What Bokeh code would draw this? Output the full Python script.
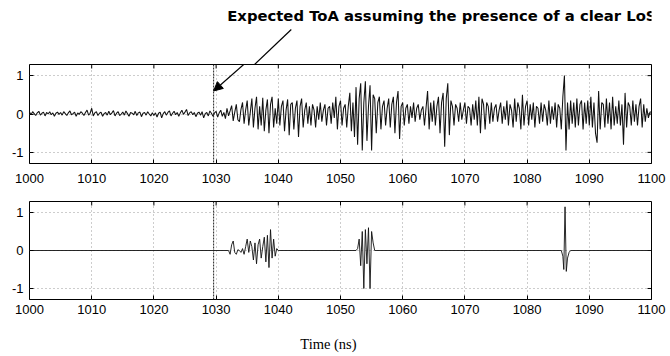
from bokeh.plotting import figure
from bokeh.layouts import column
from bokeh.models import Range1d, FixedTicker, Span, Arrow, NormalHead
from bokeh.core.properties import value
from bokeh.embed import file_html
from bokeh.resources import INLINE

# ---------------- data ----------------
t0 = 1000.0
dt = 0.25
received = [
    # 1000-1010
    0.05,-0.02,0.06,0.01,-0.04,0.03,0.07,-0.03,0.02,0.05,-0.05,0.04,0.00,0.06,-0.02,0.03,-0.06,0.02,0.05,-0.01,
    0.04,-0.03,0.06,0.01,-0.04,0.03,0.08,-0.02,0.01,0.05,-0.06,0.03,-0.01,0.06,0.02,-0.04,0.04,0.10,-0.03,0.02,
    # 1010-1020
    0.15,-0.05,0.03,0.06,-0.04,0.02,0.05,-0.06,0.01,0.04,-0.03,0.07,-0.02,0.03,0.09,-0.05,0.02,0.06,-0.04,0.00,
    0.05,-0.03,0.08,0.01,-0.06,0.04,0.02,-0.02,0.07,-0.04,0.03,0.05,-0.07,0.02,0.04,-0.03,0.06,0.00,-0.05,0.03,
    # 1020-1030
    -0.04,0.03,-0.08,0.02,0.05,-0.10,0.01,0.06,-0.03,0.04,0.08,-0.05,0.02,0.07,-0.02,0.04,-0.06,0.03,0.10,-0.01,
    0.05,0.12,-0.04,0.03,0.06,-0.02,0.04,-0.07,0.02,0.05,-0.03,0.06,-0.10,0.01,0.04,-0.05,0.08,0.02,-0.06,0.03,
    # 1030-1040
    0.07,-0.08,0.03,0.10,-0.06,0.04,-0.12,0.15,-0.05,0.08,0.22,-0.18,0.05,0.25,-0.15,-0.20,0.12,0.30,-0.25,0.10,
    0.35,-0.30,0.05,0.40,-0.35,0.15,0.45,-0.40,0.20,-0.30,0.42,-0.45,0.10,0.38,-0.50,0.25,0.45,-0.35,0.15,-0.25,
    # 1040-1050
    0.40,-0.30,0.20,0.35,-0.45,0.10,0.38,-0.55,0.25,0.30,-0.40,0.15,0.35,-0.60,0.20,0.40,-0.35,0.10,0.30,-0.25,
    0.20,-0.30,0.25,0.10,-0.35,0.20,-0.15,0.30,-0.20,0.10,0.25,-0.30,0.15,0.20,-0.25,0.30,-0.10,0.45,-0.40,0.20,
    # 1050-1060
    0.35,-0.30,0.15,0.25,-0.35,0.20,0.55,-0.45,0.30,-0.60,0.70,-0.80,0.40,0.80,-0.95,0.30,0.85,-0.70,0.20,0.75,
    -0.95,0.50,0.40,-0.50,0.30,0.45,-0.40,0.20,0.35,-0.30,0.15,0.40,-0.35,0.25,0.45,-0.50,0.30,0.60,-0.65,0.20,
    # 1060-1070
    0.30,-0.30,0.15,0.25,-0.25,0.20,-0.10,0.30,-0.20,0.15,0.25,-0.15,0.10,0.20,-0.30,0.15,0.60,-0.40,0.30,-0.20,
    0.35,-0.30,0.20,0.45,-0.50,0.30,0.55,-0.85,0.40,0.80,-0.55,0.35,0.20,-0.30,0.25,0.15,-0.20,0.30,-0.15,0.10,
    # 1070-1080
    0.30,-0.25,0.20,0.15,-0.30,0.25,-0.15,0.35,-0.30,0.45,-0.50,0.40,0.25,-0.40,0.30,0.20,-0.25,0.30,-0.20,0.15,
    0.25,-0.20,0.10,0.30,-0.25,0.20,-0.15,0.35,-0.30,0.25,0.10,-0.35,0.40,-0.20,0.30,0.15,-0.40,0.50,-0.30,0.20,
    # 1080-1090
    0.35,-0.30,0.25,-0.15,0.30,-0.35,0.20,0.15,-0.25,0.30,-0.20,0.25,0.10,-0.30,0.35,-0.25,0.20,-0.15,0.30,-0.35,
    0.25,0.15,-0.40,0.45,1.00,-0.95,0.30,-0.40,0.35,-0.25,0.30,-0.35,0.40,-0.30,0.25,0.35,-0.40,0.30,-0.25,0.35,
    # 1090-1100
    -0.30,0.45,-0.35,0.30,-0.50,-0.75,0.60,-0.40,0.30,0.25,-0.35,0.40,-0.25,0.30,-0.40,0.45,-0.30,0.20,-0.25,0.35,
    -0.30,0.25,-0.80,0.55,-0.35,0.30,0.20,-0.30,0.35,-0.20,0.25,-0.30,0.20,0.40,-0.35,0.25,-0.20,0.15,-0.10,0.05,
    0.05,
]
received_t = [t0 + dt * i for i in range(len(received))]

clean_t = [1000.0, 1032.0, 1032.25, 1032.5, 1032.75, 1033.0, 1033.25, 1033.5, 1033.75, 1034.0, 1034.25,
           1034.5, 1034.75, 1035.0, 1035.25, 1035.5, 1035.75, 1036.0, 1036.25, 1036.5, 1036.75, 1037.0,
           1037.25, 1037.5, 1037.75, 1038.0, 1038.25, 1038.5, 1038.75, 1039.0, 1039.25, 1039.5, 1039.75,
           1040.0,
           1052.5, 1052.75, 1053.0, 1053.25, 1053.5, 1053.75, 1054.0, 1054.25, 1054.5, 1054.75, 1055.0,
           1055.25, 1055.5,
           1085.5, 1085.75, 1085.9, 1086.1, 1086.3, 1086.5, 1086.75, 1087.0,
           1100.0]
clean_v = [0.0, 0.0, -0.10, 0.15, 0.25, -0.05, -0.10, 0.02, 0.0, -0.05, 0.05,
           -0.10, 0.10, 0.30, -0.05, 0.25, 0.10, -0.25, 0.20, -0.35, 0.15, 0.30,
           -0.20, 0.10, 0.35, -0.30, 0.40, -0.45, 0.55, -0.20, 0.30, -0.15, 0.05,
           0.0,
           0.0, 0.05, 0.30, -0.40, 0.50, -1.00, 0.55, -0.35, 0.60, -1.00, 0.50,
           0.20, 0.0,
           0.0, -0.15, -0.50, 1.15, -0.55, -0.20, -0.05, 0.0,
           0.0]

x_ticks = [1000, 1010, 1020, 1030, 1040, 1050, 1060, 1070, 1080, 1090, 1100]
y_ticks = [-1, 0, 1]
y_tick_labels = {-1: "-1", 0: "0", 1: "1"}
toa = 1029.6

title_text = "Expected ToA assuming the presence of a clear LoS"
xlabel_text = "Time (ns)"

W = 670
FONT = "Liberation Sans"
XR = (1000, 1100)
YR = (-1.29, 1.29)


def text_strip(height, top_px):
    # strip of the page in pixel coordinates (page x 0..670, page y top_px..top_px+height)
    p = figure(width=W, height=height, output_backend="svg", toolbar_location=None,
               x_range=Range1d(0, W), y_range=Range1d(top_px + height, top_px),
               x_axis_type=None, y_axis_type=None,
               min_border_left=0, min_border_right=0, min_border_top=0, min_border_bottom=0)
    p.outline_line_color = None
    p.grid.visible = False
    return p


def make_fig(height, top, bottom, frame_px_h, standoff):
    p = figure(width=W, height=height, output_backend="svg", toolbar_location=None,
               x_range=Range1d(*XR), y_range=Range1d(*YR),
               min_border_left=29, min_border_right=19, min_border_top=top,
               min_border_bottom=bottom)
    p.outline_line_color = "black"
    p.outline_line_width = 1
    for ax in (p.xaxis[0], p.yaxis[0]):
        ax.major_tick_in = 4
        ax.major_tick_out = 0
        ax.minor_tick_line_color = None
        ax.axis_line_color = None
        ax.major_label_text_font = FONT
        ax.major_label_text_font_size = "13px"
        ax.major_label_text_color = "black"
        ax.major_tick_line_color = "black"
    p.xaxis[0].ticker = FixedTicker(ticks=x_ticks)
    p.xaxis[0].major_label_standoff = standoff
    p.yaxis[0].ticker = FixedTicker(ticks=y_ticks)
    p.yaxis[0].major_label_overrides = y_tick_labels
    p.yaxis[0].major_label_standoff = 6
    # inward ticks on the top and right edges (MATLAB box style)
    dy = 4.0 * (YR[1] - YR[0]) / frame_px_h
    dx = 4.0 * (XR[1] - XR[0]) / 622.0
    p.segment(x0=x_ticks, y0=[YR[1]] * len(x_ticks), x1=x_ticks, y1=[YR[1] - dy] * len(x_ticks),
              line_color="black", line_width=1)
    p.segment(x0=[XR[1]] * len(y_ticks), y0=y_ticks, x1=[XR[1] - dx] * len(y_ticks), y1=y_ticks,
              line_color="black", line_width=1)
    p.xgrid.ticker = FixedTicker(ticks=x_ticks)
    p.ygrid.ticker = FixedTicker(ticks=y_ticks)
    for g in (p.xgrid[0], p.ygrid[0]):
        g.grid_line_color = "#9a9a9a"
        g.grid_line_dash = "1 3"
        g.grid_line_width = 1
    p.add_layout(Span(location=toa, dimension="height", line_color="#222222",
                      line_dash="2 1", line_width=1))
    return p


# title strip (page y 0..64)
pt = text_strip(64, 0)
pt.text(x=[213], y=[15], text=[title_text], text_font=value("DejaVu Sans"),
        text_font_style="bold", text_font_size="14.8px", text_baseline="middle",
        text_align="left", text_color="black")
pt.segment(x0=[282], y0=[29], x1=[242.4], y1=[64], line_color="black", line_width=1.2)

# received signal (frame page y 64..163)
p1 = make_fig(129, 0, 30, 99, 10)
p1.line(received_t, received, line_color="#111111", line_width=1.05)
p1.add_layout(Arrow(x_start=1040.68, y_start=2.18, x_end=toa, y_end=0.60,
                    line_color="black", line_width=1.2,
                    end=NormalHead(size=9, fill_color="black", line_color="black")))

# clean multipath components (frame page y 201..299)
p2 = make_fig(128, 8, 22, 98, 5)
p2.line(clean_t, clean_v, line_color="#111111", line_width=0.9)

# x label strip (page y 321..356)
pb = text_strip(35, 321)
pb.text(x=[322], y=[343], text=[xlabel_text], text_font=value("Liberation Serif"),
        text_font_size="14.5px", text_align="center", text_baseline="middle", text_color="black")

layout = column(pt, p1, p2, pb, spacing=0)
open("out.html", "w").write(file_html(layout, INLINE))
